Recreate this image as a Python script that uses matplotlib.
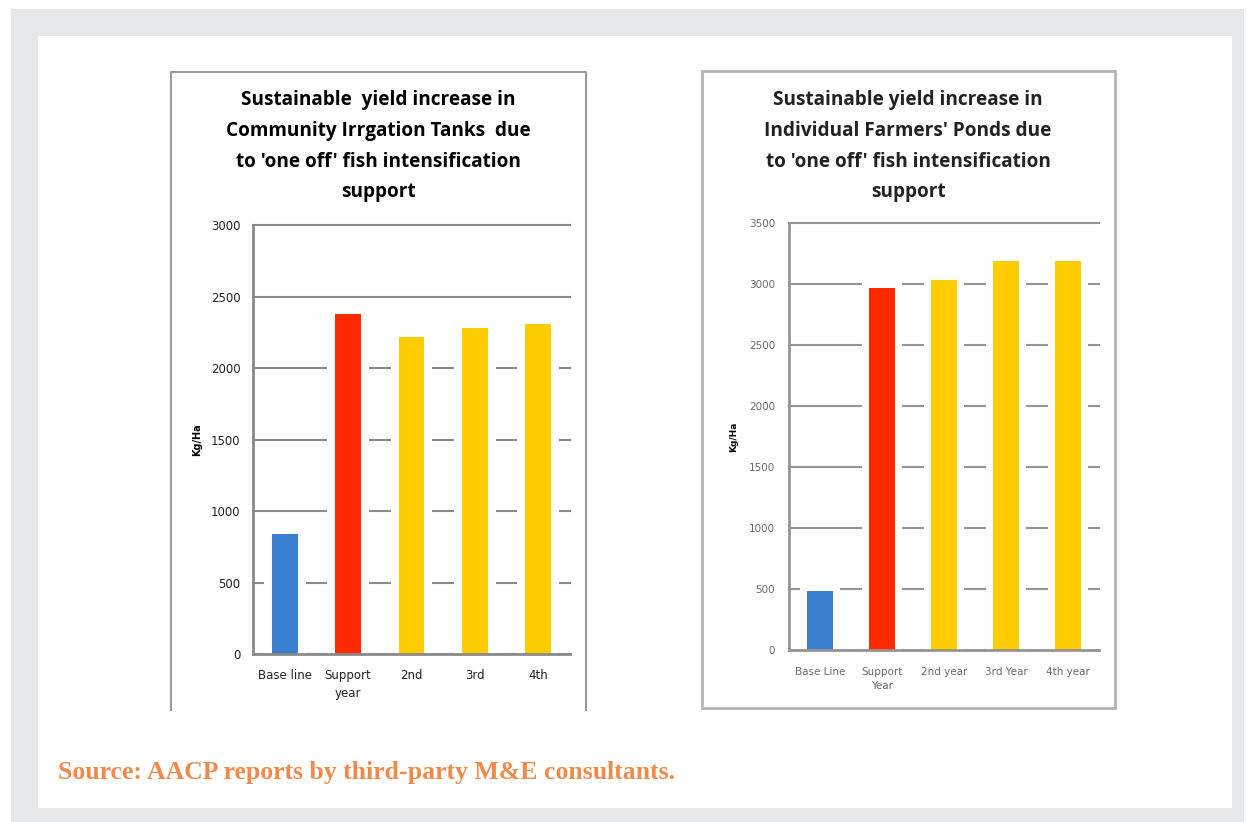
from matplotlib import pyplot as plt
from matplotlib.patches import Rectangle

W, H = 1248, 822

# left chart: community irrigation tanks
tank_cats = ['Base line', 'Support\nyear', '2nd', '3rd', '4th']
tank_vals = [840, 2380, 2220, 2280, 2310]
tank_title = ("Sustainable  yield increase in\nCommunity Irrgation Tanks  due\n"
              "to 'one off' fish intensification\nsupport")

# right chart: individual farmers' ponds
pond_cats = ['Base Line', 'Support\nYear', '2nd year', '3rd Year', '4th year']
pond_vals = [480, 2970, 3030, 3190, 3190]
pond_title = ("Sustainable yield increase in\nIndividual Farmers' Ponds due\n"
              "to 'one off' fish intensification\nsupport")

bar_colors = ['#3b7fd0', '#ff2a00', '#ffcc00', '#ffcc00', '#ffcc00']
source_text = 'Source: AACP reports by third-party M&E consultants.'


def frac(x0, y0, x1, y1):
    # pixel box (top-left origin) -> figure fraction rect
    return [x0 / W, 1 - y1 / H, (x1 - x0) / W, (y1 - y0) / H]


def fig_rect(fig, x0, y0, x1, y1, **kw):
    r = Rectangle((x0 / W, 1 - y1 / H), (x1 - x0) / W, (y1 - y0) / H,
                  transform=fig.transFigure, zorder=-5, **kw)
    fig.patches.append(r)


def bar_chart(fig, box, cats, vals, ymax, tick_size, tick_color, halo_pad,
              ypad, xpad, grid_color):
    ax = fig.add_axes(frac(*box))
    ax.set_facecolor('none')
    x = range(len(cats))
    ax.set_ylim(0, ymax)
    ax.set_xlim(-0.5, len(cats) - 0.5)
    ax.set_yticks(range(0, ymax + 1, 500))
    ax.yaxis.grid(True, color=grid_color, lw=1.5, zorder=0)
    for gl in ax.get_ygridlines():
        gl.set_clip_on(False)
    ax.set_axisbelow(True)
    # white glow behind each bar breaks the gridlines like the original
    ax.bar(x, [v + halo_pad for v in vals], width=0.66, color='white', zorder=2)
    ax.bar(x, vals, width=0.41, color=bar_colors, zorder=3)
    ax.set_xticks(list(x))
    ax.set_xticklabels(cats, fontsize=tick_size, color=tick_color, linespacing=1.5)
    ax.tick_params(axis='y', labelsize=tick_size, labelcolor=tick_color, length=0, pad=ypad)
    ax.tick_params(axis='x', length=0, pad=xpad)
    for s in ['top', 'right']:
        ax.spines[s].set_visible(False)
    for s in ['left', 'bottom']:
        ax.spines[s].set_color(grid_color)
        ax.spines[s].set_linewidth(2)
        ax.spines[s].set_zorder(4)
    return ax


def main():
    fig = plt.figure(figsize=(W / 100, H / 100), dpi=100)
    fig.patch.set_facecolor('white')

    # page background and white panel
    fig_rect(fig, 11, 9, 1244, 822, color='#e6e7e8', lw=0)
    fig_rect(fig, 38, 36, 1232, 808, color='white', lw=0)

    # left chart frame (open at the bottom)
    fig.add_artist(plt.Line2D([171 / W, 171 / W, 586 / W, 586 / W],
                              [1 - 710 / H, 1 - 72 / H, 1 - 72 / H, 1 - 710 / H],
                              color='#9a9a9a', lw=1.5, zorder=-4))
    # right chart frame
    fig_rect(fig, 702, 71, 1115, 708, facecolor='white', edgecolor='#b4b4b4', lw=2)

    ax1 = bar_chart(fig, (253, 225, 570, 654), tank_cats, tank_vals, 3000,
                    8.5, '#222222', 40, 9, 11, '#8a8a8a')
    ax1.set_ylabel('Kg/Ha', fontsize=7, fontweight='bold', labelpad=6)

    ax2 = bar_chart(fig, (789, 223, 1099, 650), pond_cats, pond_vals, 3500,
                    7.5, '#6a6a6a', 60, 10, 12, '#959595')
    ax2.set_ylabel('Kg/Ha', fontsize=6.5, fontweight='bold', labelpad=8)

    fig.text(378 / W, 1 - 90 / H, tank_title, ha='center', va='top',
             fontsize=13.7, fontweight='bold', family='Open Sans', linespacing=1.72)
    fig.text(908 / W, 1 - 90 / H, pond_title, ha='center', va='top',
             fontsize=13.7, fontweight='bold', family='Open Sans', linespacing=1.72,
             color='#222222')

    fig.text(58 / W, 1 - 772 / H, source_text, ha='left', va='center',
             fontsize=18.5, fontweight='bold', family='Liberation Serif', color='#f08a4b')

    fig.savefig('out.png', dpi=100)


if __name__ == '__main__':
    main()
